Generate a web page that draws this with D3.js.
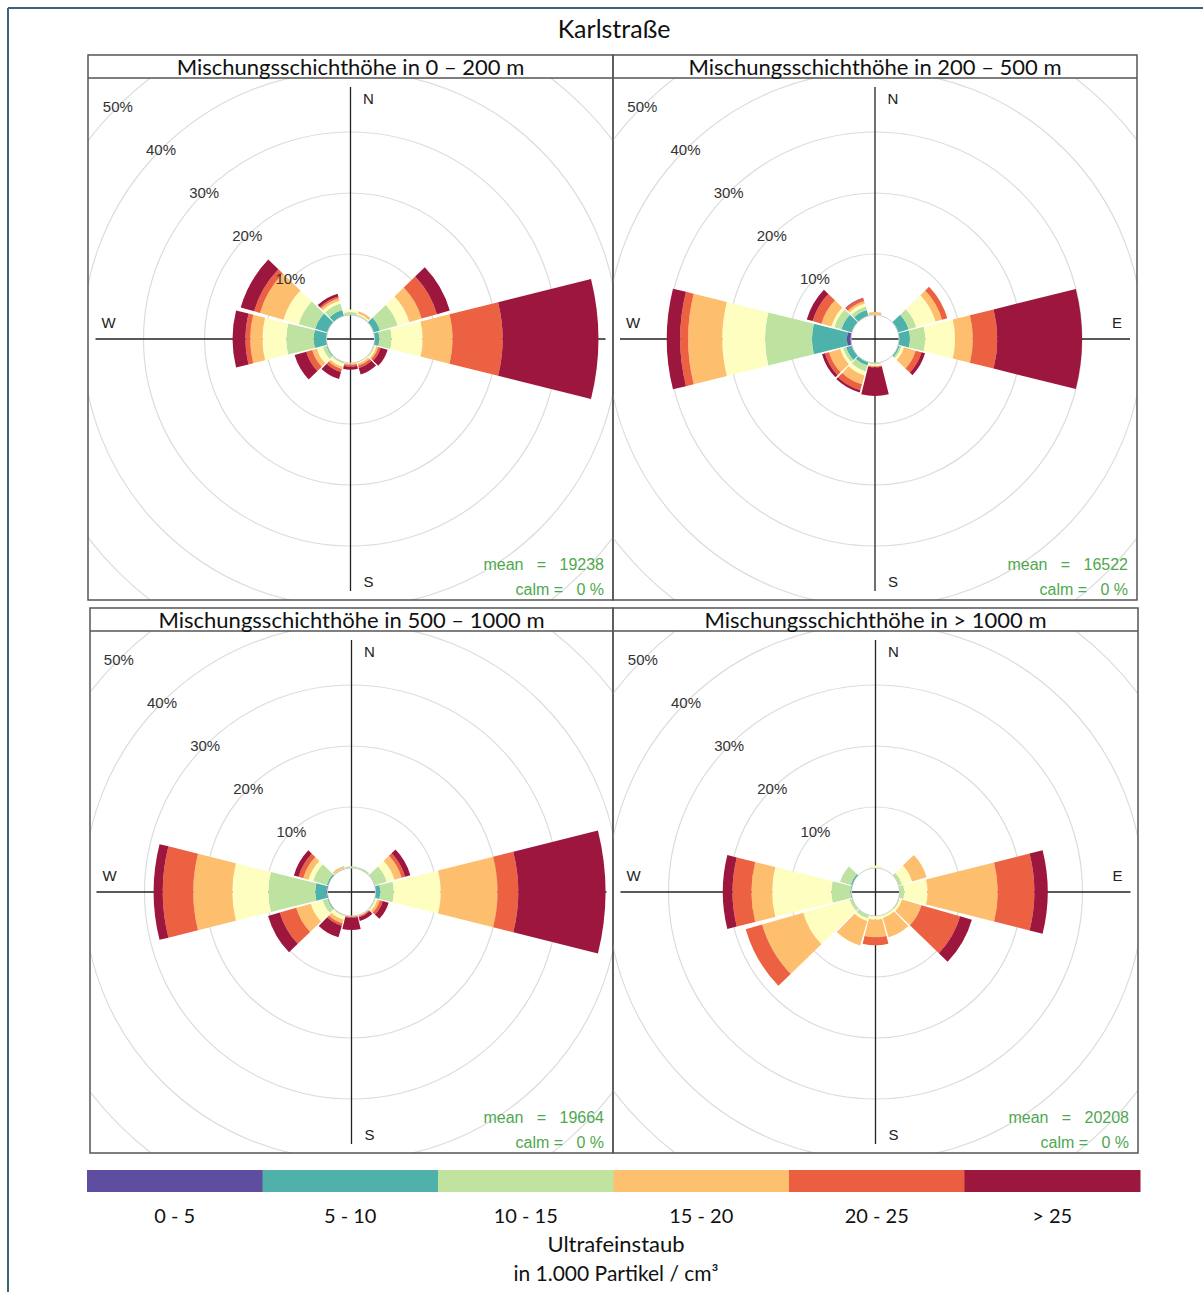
<!DOCTYPE html>
<html>
<head>
<meta charset="utf-8">
<script src="https://cdn.jsdelivr.net/npm/d3@7"></script>
<style>
	body { margin: 0; background: #fff; }
	#chart { display: block; }
</style>
</head>
<body>
<svg id="chart" width="1203" height="1292"></svg>
<script>

// wind directions (deg) and concentration classes
var directions = [0, 30, 60, 90, 120, 150, 180, 210, 240, 270, 300, 330];
var binLabels = ["0-5", "5-10", "10-15", "15-17.5", "17.5-20", "20-25", ">25"];
var binColors = ["#5e4fa2", "#4db2aa", "#bee3a0", "#fdfec0", "#fdbe6e", "#ec6141", "#9d163e"];
var legendLabels = ["0 - 5", "5 - 10", "10 - 15", "15 - 20", "20 - 25", "> 25"];
var legendColors = ["#5f4ea0", "#50b0aa", "#c0e49f", "#fdc06e", "#eb5e42", "#9c173e"];
var gridTicks = [10, 20, 30, 40, 50];

var panelTitles = [
	"Mischungsschichthöhe in 0 – 200 m",
	"Mischungsschichthöhe in 200 – 500 m",
	"Mischungsschichthöhe in 500 – 1000 m",
	"Mischungsschichthöhe in > 1000 m"
];
var panelMeans = [19238, 16522, 19664, 20208];
var panelCalm = [0, 0, 0, 0];

// frequency (%) per direction, one value per class
var freq0_200 = [
	[0, 0.1, 0.4, 0.4, 0, 0, 0],
	[0, 0, 0.2, 0.2, 0.4, 0, 0],
	[0, 1.1, 3.0, 2.0, 2.1, 2.6, 2.2],
	[0, 0.8, 2.0, 5.1, 4.9, 8.2, 15.7],
	[0, 0, 0.2, 0.3, 0.3, 0.4, 1.2],
	[0, 0, 0.1, 0.2, 0.3, 0.4, 1.1],
	[0, 0, 0, 0.1, 0.2, 0.3, 0.5],
	[0, 0.1, 0.2, 0.5, 0.4, 0.5, 1.2],
	[0, 0.2, 0.6, 1.0, 0.8, 1.0, 2.0],
	[0, 2.1, 4.5, 3.9, 2.0, 0.8, 2.1],
	[0, 2.1, 2.8, 2.6, 4.0, 1.0, 2.3],
	[0, 1.0, 1.1, 0.5, 0.4, 0.3, 0.5]
];
var freq200_500 = [
	[0, 0, 0, 0.1, 0.4, 0, 0],
	[0, 0, 0, 0, 0, 0, 0],
	[0, 1.8, 1.3, 3.3, 1.1, 0.9, 0],
	[0, 1.8, 2.5, 4.9, 2.9, 4.0, 13.9],
	[0, 0.3, 0.3, 0.4, 2.0, 1.0, 0.6],
	[0, 0, 0, 0, 0, 0, 0],
	[0, 0, 0.2, 0.3, 0.1, 0.1, 4.7],
	[0, 0.6, 1.0, 0.7, 1.5, 1.0, 0.4],
	[0, 1.0, 0.5, 0.5, 1.9, 0.7, 0.5],
	[0.7, 5.7, 7.7, 7.0, 5.6, 1.3, 2.2],
	[0, 1.8, 1.2, 0.5, 1.7, 1.5, 1.0],
	[0, 1.0, 0.6, 0.5, 0.4, 0.5, 0.1]
];
var freq500_1000 = [
	[0, 0, 0.3, 0, 0, 0, 0],
	[0, 0, 0.3, 0, 0, 0, 0],
	[0, 0.1, 2.0, 1.3, 1.2, 0.6, 0.9],
	[0, 0.8, 2.2, 7.7, 9.3, 3.4, 14.3],
	[0, 0, 0.2, 0.3, 0.4, 0.5, 1.0],
	[0, 0, 0, 0.1, 0.1, 0.2, 0.6],
	[0, 0, 0, 0, 0.1, 0.2, 2.0],
	[0, 0, 0.2, 0.6, 0.6, 0.4, 2.0],
	[0, 0.2, 0.8, 2.0, 2.5, 2.8, 2.0],
	[0.2, 1.8, 7.7, 5.9, 6.4, 5.0, 1.5],
	[0, 0.3, 2.3, 0.8, 0.9, 0.8, 0.8],
	[0, 0, 0.2, 0, 0.3, 0, 0]
];
var freq1000 = [
	[0, 0, 0, 0.4, 0, 0, 0],
	[0, 0, 0, 0, 0, 0, 0],
	[0, 0, 0.6, 1.7, 2.5, 0, 0],
	[0, 0.1, 0.7, 3.8, 11.5, 6.0, 2.2],
	[0, 0, 0.2, 0.4, 3.3, 6.6, 2.0],
	[0, 0, 0.1, 0.4, 3.3, 0, 0],
	[0, 0, 0, 0.6, 2.9, 1.3, 0],
	[0, 0, 0.6, 0.4, 4.2, 0, 0],
	[0, 0, 0.5, 7.9, 7.0, 2.8, 0],
	[0, 0.2, 3.1, 9.7, 3.4, 3.1, 1.6],
	[0, 0.3, 1.8, 0, 0, 0, 0],
	[0, 0, 0, 0, 0, 0, 0]
];
var panelData = [freq0_200, freq200_500, freq500_1000, freq1000];

// layout
var panelBoxes = [
	{x: 88, y: 55, w: 525, h: 545},
	{x: 613, y: 55, w: 524, h: 545},
	{x: 90, y: 608, w: 523, h: 545},
	{x: 613, y: 608, w: 525, h: 545}
];
var stripH = 23,
	halfAngle = 14;

var titleFont = "Lato, 'Open Sans', sans-serif",
	plotFont = "'Liberation Sans', Arial, sans-serif";

var rScale = d3.scaleLinear().domain([0, 10]).range([24, 85]);
var colScale = d3.scaleOrdinal().domain(d3.range(binLabels.length)).range(binColors);

var svg = d3.select("#chart");

// outer frame
svg.append("line").attr("x1", 8).attr("y1", 8).attr("x2", 1203).attr("y2", 8)
	.attr("stroke", "#3e6277").attr("stroke-width", 2);
svg.append("line").attr("x1", 8).attr("y1", 8).attr("x2", 8).attr("y2", 1292)
	.attr("stroke", "#3e6277").attr("stroke-width", 2);

svg.append("text")
	.attr("x", 614)
	.attr("y", 38)
	.attr("text-anchor", "middle")
	.style("font-family", titleFont)
	.style("font-size", "25px")
	.attr("fill", "#111")
	.text("Karlstraße");

var arc = d3.arc();
var rad = Math.PI / 180;

panelBoxes.forEach(function(b, pi) {
	var plotTop = b.y + stripH,
		plotH = b.h - stripH,
		cx = b.x + b.w / 2,
		cy = plotTop + plotH / 2;

	var g = svg.append("g");

	g.append("clipPath")
		.attr("id", "clip" + pi)
		.append("rect")
		.attr("x", b.x).attr("y", plotTop)
		.attr("width", b.w).attr("height", plotH);

	var plot = g.append("g").attr("clip-path", "url(#clip" + pi + ")");
	var rose = plot.append("g").attr("transform", "translate(" + cx + "," + cy + ")");

	// grid circles
	rose.selectAll(".grid")
		.data(gridTicks)
		.enter()
		.append("circle")
		.attr("r", function(d) { return rScale(d); })
		.attr("fill", "none")
		.attr("stroke", "#dcdcdc")
		.attr("stroke-width", 1.2);

	// axes
	rose.append("line").attr("x1", -255).attr("x2", 255).attr("y1", 0).attr("y2", 0)
		.attr("stroke", "#222").attr("stroke-width", 1.3);
	rose.append("line").attr("x1", 0).attr("x2", 0).attr("y1", -252).attr("y2", 252)
		.attr("stroke", "#222").attr("stroke-width", 1.3);

	var compass = [
		{t: "N", x: 18, y: -241},
		{t: "S", x: 18, y: 242},
		{t: "W", x: -242, y: -17},
		{t: "E", x: 242, y: -17}
	];
	rose.selectAll(".compass")
		.data(compass)
		.enter()
		.append("text")
		.attr("x", function(d) { return d.x; })
		.attr("y", function(d) { return d.y; })
		.attr("text-anchor", "middle")
		.attr("dominant-baseline", "central")
		.style("font-family", plotFont)
		.style("font-size", "15px")
		.attr("fill", "#222")
		.text(function(d) { return d.t; });

	// stacked sectors
	var segs = [];
	panelData[pi].forEach(function(vals, di) {
		var cum = 0;
		vals.forEach(function(v, bi) {
			if (v > 0) {
				segs.push({dir: directions[di], bin: bi, lo: cum, hi: cum + v});
			}
			cum += v;
		});
	});

	rose.selectAll(".seg")
		.data(segs)
		.enter()
		.append("path")
		.attr("d", function(d) {
			return arc({
				innerRadius: rScale(d.lo),
				outerRadius: rScale(d.hi),
				startAngle: (d.dir - halfAngle) * rad,
				endAngle: (d.dir + halfAngle) * rad
			});
		})
		.attr("fill", function(d) { return colScale(d.bin); })
		.attr("stroke", "none");

	// calm circle
	rose.append("circle")
		.attr("r", rScale(0))
		.attr("fill", "none")
		.attr("stroke", "#d0d0d0")
		.attr("stroke-width", 1);

	// percent labels along NW, on top of the sectors
	rose.selectAll(".pct")
		.data(gridTicks)
		.enter()
		.append("text")
		.attr("x", function(d) { return -rScale(d) * Math.SQRT1_2; })
		.attr("y", function(d) { return -rScale(d) * Math.SQRT1_2; })
		.attr("text-anchor", "middle")
		.attr("dominant-baseline", "central")
		.style("font-family", plotFont)
		.style("font-size", "15px")
		.attr("fill", "#333")
		.text(function(d) { return d + "%"; });

	// mean / calm
	var statX = b.x + b.w - 9;
	g.append("text")
		.attr("x", statX).attr("y", b.y + b.h - 30)
		.attr("text-anchor", "end")
		.style("font-family", plotFont)
		.style("font-size", "16px")
		.attr("fill", "#4fa84f")
		.attr("xml:space", "preserve")
		.text("mean   =   " + panelMeans[pi]);
	g.append("text")
		.attr("x", statX).attr("y", b.y + b.h - 5)
		.attr("text-anchor", "end")
		.style("font-family", plotFont)
		.style("font-size", "16px")
		.attr("fill", "#4fa84f")
		.attr("xml:space", "preserve")
		.text("calm =   " + panelCalm[pi] + " %");

	// frame + title strip
	g.append("rect")
		.attr("x", b.x).attr("y", b.y)
		.attr("width", b.w).attr("height", b.h)
		.attr("fill", "none")
		.attr("stroke", "#555")
		.attr("stroke-width", 1.5);
	g.append("line")
		.attr("x1", b.x).attr("x2", b.x + b.w)
		.attr("y1", plotTop).attr("y2", plotTop)
		.attr("stroke", "#555")
		.attr("stroke-width", 1.5);
	g.append("text")
		.attr("x", cx)
		.attr("y", b.y + 20)
		.attr("text-anchor", "middle")
		.style("font-family", titleFont)
		.style("font-size", "22px")
		.attr("fill", "#111")
		.text(panelTitles[pi]);
});

// legend
var legX = d3.scaleBand().domain(legendLabels).range([87, 1140]);

var legend = svg.append("g");
legend.selectAll("rect")
	.data(legendLabels)
	.enter()
	.append("rect")
	.attr("x", function(d) { return legX(d); })
	.attr("y", 1170)
	.attr("width", legX.bandwidth() + 0.5)
	.attr("height", 22)
	.attr("fill", function(d, i) { return legendColors[i]; });

legend.selectAll(".lab")
	.data(legendLabels)
	.enter()
	.append("text")
	.attr("x", function(d) { return legX(d) + legX.bandwidth() / 2; })
	.attr("y", 1223)
	.attr("text-anchor", "middle")
	.style("font-family", titleFont)
	.style("font-size", "20px")
	.attr("fill", "#111")
	.text(function(d) { return d; });

legend.append("text")
	.attr("x", 616).attr("y", 1252)
	.attr("text-anchor", "middle")
	.style("font-family", titleFont)
	.style("font-size", "22px")
	.attr("fill", "#111")
	.text("Ultrafeinstaub");

legend.append("text")
	.attr("x", 616).attr("y", 1281)
	.attr("text-anchor", "middle")
	.style("font-family", titleFont)
	.style("font-size", "21px")
	.attr("fill", "#111")
	.text("in 1.000 Partikel / cm³");

</script>
</body>
</html>
